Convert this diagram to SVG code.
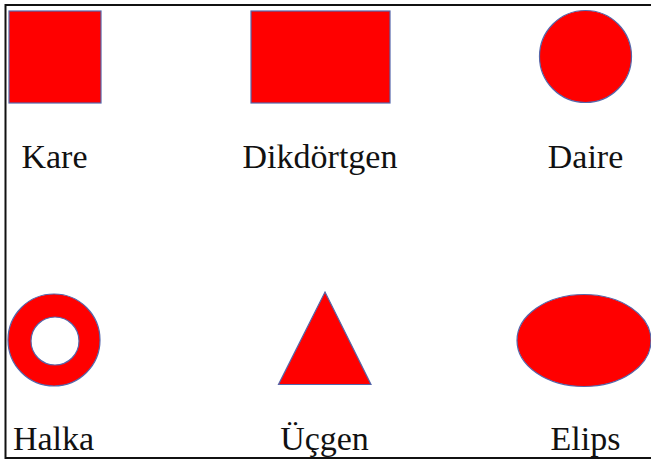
<svg xmlns="http://www.w3.org/2000/svg" width="651" height="461" viewBox="0 0 651 461">
<style>
.shape{fill:#ff0000;stroke:#5566aa;stroke-width:1.2}
.lbl{font-family:"Liberation Serif","Times New Roman",serif;font-size:34px;fill:#111;text-anchor:middle}
</style>
<rect x="0" y="0" width="651" height="461" fill="#ffffff"/>
<rect x="5.5" y="5" width="700" height="453" fill="none" stroke="#111" stroke-width="2"/>
<g id="kare">
<rect class="shape" x="9" y="11" width="92" height="92"/>
<text class="lbl" x="54.5" y="168">Kare</text>
</g>
<g id="dikdortgen">
<rect class="shape" x="251" y="11" width="139" height="92"/>
<text class="lbl" x="320" y="168">Dikdörtgen</text>
</g>
<g id="daire">
<circle class="shape" cx="585.5" cy="56.5" r="46"/>
<text class="lbl" x="585.5" y="168">Daire</text>
</g>
<g id="halka">
<path class="shape" fill-rule="evenodd" d="M8,340 a46,46 0 1,0 92,0 a46,46 0 1,0 -92,0 Z M31,341 a24,24 0 1,0 48,0 a24,24 0 1,0 -48,0 Z"/>
<text class="lbl" x="53.5" y="450">Halka</text>
</g>
<g id="ucgen">
<polygon class="shape" points="325,292 371,384.5 278.5,384.5"/>
<text class="lbl" x="324.5" y="450">Üçgen</text>
</g>
<g id="elips">
<ellipse class="shape" cx="584" cy="340.5" rx="67" ry="46"/>
<text class="lbl" x="585.5" y="450">Elips</text>
</g>
<g id="connectors"/>
</svg>
